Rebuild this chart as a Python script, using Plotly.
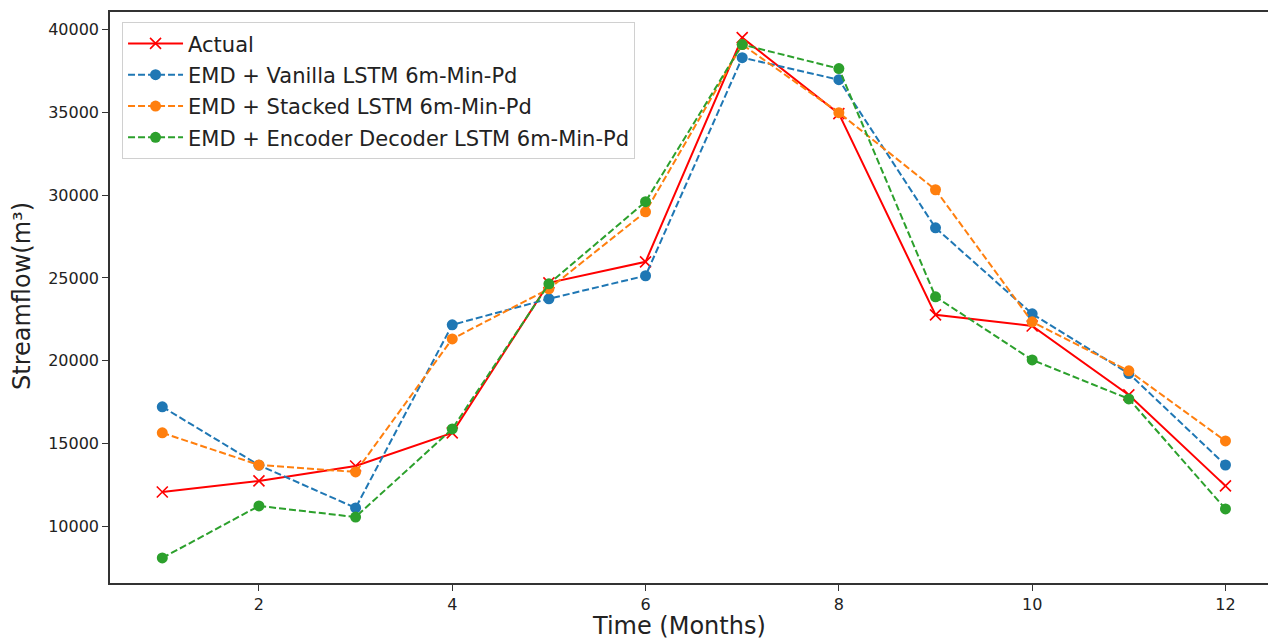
import plotly.graph_objects as go

months = [1, 2, 3, 4, 5, 6, 7, 8, 9, 10, 11, 12]
actual = [12080, 12750, 13650, 15650, 24700, 25970, 39500, 34910, 22770, 22100, 17940, 12450]
vanilla = [17220, 13700, 11120, 22170, 23740, 25130, 38290, 36960, 28020, 22830, 19230, 13710]
stacked = [15650, 13710, 13290, 21320, 24340, 28990, 39080, 34970, 30320, 22350, 19390, 15160]
encdec = [8100, 11240, 10570, 15890, 24640, 29600, 39080, 37630, 23860, 20050, 17700, 11060]

names = ["Actual", "EMD + Vanilla LSTM 6m-Min-Pd", "EMD + Stacked LSTM 6m-Min-Pd",
         "EMD + Encoder Decoder LSTM 6m-Min-Pd"]
colors = ["#ff0000", "#1f77b4", "#ff7f0e", "#2ca02c"]
x_ticks = [2, 4, 6, 8, 10, 12]
y_ticks = [10000, 15000, 20000, 25000, 30000, 35000, 40000]

fig = go.Figure()
fig.add_trace(go.Scatter(
    x=months, y=actual, name=names[0], mode="lines+markers", legendgroup="g0",
    line=dict(color=colors[0], width=2),
    marker=dict(symbol="x-thin", size=11, line=dict(color=colors[0], width=1.6)),
))
for i, (vals, nm, col) in enumerate(zip([vanilla, stacked, encdec], names[1:], colors[1:])):
    fig.add_trace(go.Scatter(
        x=months, y=vals, name=nm, mode="lines+markers", legendgroup=f"g{i+1}",
        line=dict(color=col, width=2, dash="7px,3px"),
        marker=dict(symbol="circle", size=11, color=col),
    ))

font_family = "DejaVu Sans"
fig.update_layout(
    width=1268, height=641,
    margin=dict(l=110, r=0, t=12, b=58),
    plot_bgcolor="white", paper_bgcolor="white",
    font=dict(family=font_family, color="#222222"),
    showlegend=True,
    legend=dict(
        x=0.0104, y=0.982, xanchor="left", yanchor="top",
        bgcolor="rgba(255,255,255,0.8)", bordercolor="#d0d0d0", borderwidth=1,
        font=dict(family=font_family, size=21, color="#222222"),
        itemwidth=55, tracegroupgap=1,
    ),
    xaxis=dict(
        range=[0.459, 12.44], tickvals=x_ticks, ticktext=[str(v) for v in x_ticks],
        showgrid=False, zeroline=False, showline=True, linecolor="#333333", linewidth=1.5,
        mirror=True, ticks="outside", ticklen=6, tickcolor="#333333",
        tickfont=dict(size=16, family=font_family, color="#222222"),
    ),
    yaxis=dict(
        range=[6590, 41045], tickvals=y_ticks, ticktext=[str(v) for v in y_ticks],
        showgrid=False, zeroline=False, showline=True, linecolor="#333333", linewidth=1.5,
        mirror=False, ticks="outside", ticklen=6, tickcolor="#333333",
        tickfont=dict(size=16, family=font_family, color="#222222"),
    ),
    annotations=[
        dict(text="Time (Months)", xref="paper", yref="paper", x=(679 - 110) / 1158,
             y=(583 - 626) / 571, xanchor="center", yanchor="middle", showarrow=False,
             font=dict(size=24, family=font_family, color="#222222")),
        dict(text="Streamflow(m³)", xref="paper", yref="paper", x=(22 - 110) / 1158,
             y=(583 - 296) / 571, xanchor="center", yanchor="middle", showarrow=False,
             textangle=-90, font=dict(size=24, family=font_family, color="#222222")),
    ],
)

fig.write_html("out.html")
